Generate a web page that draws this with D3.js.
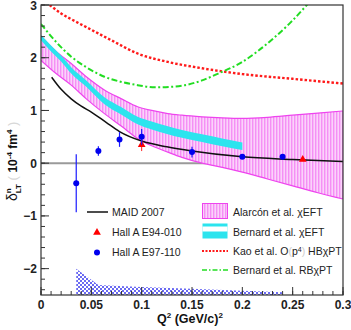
<!DOCTYPE html>
<html>
<head>
<meta charset="utf-8">
<script src="https://cdn.jsdelivr.net/npm/d3@7"></script>
<style>
  body { margin: 0; background: #fff; }
  svg { font-family: "Liberation Sans", Arial, sans-serif; }
</style>
</head>
<body>
<div id="chart"></div>
<script>
// chart data
var maidQ = [0.0106, 0.02, 0.03, 0.04, 0.05, 0.065, 0.078, 0.1, 0.125, 0.15, 0.2, 0.25, 0.3];
var maidV = [1.63, 1.4, 1.22, 1.08, 0.97, 0.77, 0.6, 0.42, 0.31, 0.23, 0.12, 0.07, 0.03];

var kaoQ = [0.0086, 0.02, 0.035, 0.05, 0.07, 0.096, 0.126, 0.16, 0.2, 0.25, 0.3];
var kaoV = [3.0, 2.84, 2.68, 2.53, 2.33, 2.08, 1.92, 1.80, 1.69, 1.60, 1.51];

var rbQ = [0, 0.015, 0.03, 0.045, 0.063, 0.08, 0.096, 0.113, 0.13, 0.143, 0.16, 0.176, 0.2, 0.215, 0.231, 0.248, 0.264, 0.275];
var rbV = [2.64, 2.3, 2.02, 1.82, 1.64, 1.54, 1.48, 1.44, 1.45, 1.48, 1.57, 1.70, 1.92, 2.12, 2.37, 2.67, 3.0, 3.25];

var bernQ = [0, 0.01, 0.02, 0.03, 0.045, 0.063, 0.08, 0.096, 0.11, 0.126, 0.14, 0.16, 0.18, 0.2];
var bernLo = [2.33, 2.12, 1.93, 1.70, 1.45, 1.12, 0.92, 0.74, 0.64, 0.55, 0.48, 0.40, 0.32, 0.25];
var bernHi = [2.43, 2.23, 2.04, 1.82, 1.57, 1.25, 1.06, 0.88, 0.79, 0.70, 0.63, 0.55, 0.47, 0.39];

var alaQ = [0, 0.015, 0.03, 0.045, 0.063, 0.08, 0.096, 0.11, 0.126, 0.14, 0.16, 0.18, 0.2, 0.225, 0.25, 0.275, 0.3];
var alaLo = [1.95, 1.70, 1.48, 1.22, 0.94, 0.70, 0.47, 0.33, 0.21, 0.11, 0.00, -0.08, -0.17, -0.30, -0.43, -0.56, -0.68];
var alaHi = [2.41, 2.12, 1.89, 1.64, 1.39, 1.22, 1.07, 1.00, 0.94, 0.91, 0.88, 0.86, 0.85, 0.87, 0.91, 0.95, 0.99];

var e97Q = [0.035, 0.057, 0.078, 0.1, 0.15, 0.2, 0.24];
var e97V = [-0.38, 0.23, 0.45, 0.50, 0.21, 0.12, 0.12];
var e97Err = [0.55, 0.09, 0.14, 0.15, 0.1, 0.03, 0.03];

var e94Q = [0.1, 0.26];
var e94V = [0.35, 0.07];
var e94Err = [0.12, 0.03];

var sysQ = [0.035, 0.057, 0.078, 0.1, 0.15, 0.2, 0.24];
var sysV = [-2.0, -2.31, -2.33, -2.35, -2.38, -2.42, -2.45];

var xTicks = [0, 0.05, 0.1, 0.15, 0.2, 0.25, 0.3];
var xTickLabels = ["0", "0.05", "0.1", "0.15", "0.2", "0.25", "0.3"];
var yTicks = [-2, -1, 0, 1, 2, 3];

var W = 351, H = 330;
var x = d3.scaleLinear().domain([0, 0.3]).range([41, 343]);
var y = d3.scaleLinear().domain([-2.5, 3]).range([295, 5]);

var svg = d3.select("#chart").append("svg")
	.attr("width", W)
	.attr("height", H);

var defs = svg.append("defs");

// plot clip
defs.append("clipPath").attr("id", "plotclip")
	.append("rect")
	.attr("x", x(0)).attr("y", y(3))
	.attr("width", x(0.3) - x(0)).attr("height", y(-2.5) - y(3));

// pink vertical hatch
var pink = defs.append("pattern").attr("id", "pinkhatch")
	.attr("patternUnits", "userSpaceOnUse")
	.attr("width", 3).attr("height", 3);
pink.append("rect").attr("width", 3).attr("height", 3).attr("fill", "#fbd2fb");
pink.append("rect").attr("width", 1.4).attr("height", 3).attr("fill", "#f58ff5");

// blue checker
var chk = defs.append("pattern").attr("id", "bluechk")
	.attr("patternUnits", "userSpaceOnUse")
	.attr("width", 4).attr("height", 4);
chk.append("rect").attr("width", 4).attr("height", 4).attr("fill", "#ffffff");
chk.append("rect").attr("width", 2).attr("height", 2).attr("fill", "#6a6af2");
chk.append("rect").attr("x", 2).attr("y", 2).attr("width", 2).attr("height", 2).attr("fill", "#6a6af2");

var plot = svg.append("g").attr("clip-path", "url(#plotclip)");

function zipQ(q, v) { return q.map(function(d, i) { return [d, v[i]]; }); }

var line = d3.line()
	.x(function(d) { return x(d[0]); })
	.y(function(d) { return y(d[1]); })
	.curve(d3.curveMonotoneX);

var band = d3.area()
	.x(function(d) { return x(d[0]); })
	.y0(function(d) { return y(d[1]); })
	.y1(function(d) { return y(d[2]); })
	.curve(d3.curveMonotoneX);

// zero line
plot.append("line")
	.attr("x1", x(0)).attr("x2", x(0.3))
	.attr("y1", y(0)).attr("y2", y(0))
	.style("stroke", "#9a9a9a")
	.style("stroke-width", 2);

// systematic band at the bottom
var sysData = sysQ.map(function(d, i) { return [d, -2.5, sysV[i]]; });
plot.append("path")
	.attr("d", d3.area()
		.x(function(d) { return x(d[0]); })
		.y0(function(d) { return y(d[1]); })
		.y1(function(d) { return y(d[2]); })
		.curve(d3.curveLinear)(sysData))
	.style("fill", "url(#bluechk)");

// Alarcon band
var alaData = alaQ.map(function(d, i) { return [d, alaLo[i], alaHi[i]]; });
plot.append("path")
	.attr("d", band(alaData))
	.style("fill", "url(#pinkhatch)");
plot.append("path")
	.attr("d", line(zipQ(alaQ, alaHi)))
	.style("fill", "none").style("stroke", "#ee44ee").style("stroke-width", 1.2);
plot.append("path")
	.attr("d", line(zipQ(alaQ, alaLo)))
	.style("fill", "none").style("stroke", "#ee44ee").style("stroke-width", 1.2);

// Bernard chiEFT band
var bernData = bernQ.map(function(d, i) { return [d, bernLo[i], bernHi[i]]; });
plot.append("path")
	.attr("d", band(bernData))
	.style("fill", "#2ce4ee");

// Kao HBchiPT
plot.append("path")
	.attr("d", line(zipQ(kaoQ, kaoV)))
	.style("fill", "none")
	.style("stroke", "#ff1a1a")
	.style("stroke-width", 2.4)
	.style("stroke-dasharray", "2.5,2");

// Bernard RBchiPT
plot.append("path")
	.attr("d", line(zipQ(rbQ, rbV)))
	.style("fill", "none")
	.style("stroke", "#22dd22")
	.style("stroke-width", 2)
	.style("stroke-dasharray", "6,2.5,2,2.5");

// MAID 2007
plot.append("path")
	.attr("d", line(zipQ(maidQ, maidV)))
	.style("fill", "none")
	.style("stroke", "#111")
	.style("stroke-width", 1.5);

// E94-010 triangles
var tri = d3.symbol().type(d3.symbolTriangle).size(26);
e94Q.forEach(function(q, i) {
	plot.append("line")
		.attr("x1", x(q)).attr("x2", x(q))
		.attr("y1", y(e94V[i] - e94Err[i])).attr("y2", y(e94V[i] + e94Err[i]))
		.style("stroke", "#ff2020").style("stroke-width", 1);
	plot.append("path")
		.attr("d", tri)
		.attr("transform", "translate(" + x(q) + "," + y(e94V[i]) + ")")
		.style("fill", "#ff0000");
});

// E97-110 circles
e97Q.forEach(function(q, i) {
	plot.append("line")
		.attr("x1", x(q)).attr("x2", x(q))
		.attr("y1", y(e97V[i] - e97Err[i])).attr("y2", y(e97V[i] + e97Err[i]))
		.style("stroke", "#1a1aff").style("stroke-width", 1.2);
	plot.append("circle")
		.attr("cx", x(q)).attr("cy", y(e97V[i]))
		.attr("r", 3)
		.style("fill", "#0000ee");
});

// frame
svg.append("rect")
	.attr("x", x(0)).attr("y", y(3))
	.attr("width", x(0.3) - x(0)).attr("height", y(-2.5) - y(3))
	.style("fill", "none").style("stroke", "#333").style("stroke-width", 1.2);

// x ticks (inside)
var xMinor = d3.range(0, 0.3001, 0.01);
svg.selectAll(".xminor").data(xMinor).enter().append("line")
	.attr("x1", function(d) { return x(d); }).attr("x2", function(d) { return x(d); })
	.attr("y1", y(-2.5)).attr("y2", y(-2.5) - 4)
	.style("stroke", "#333").style("stroke-width", 1);
svg.selectAll(".xmajor").data(xTicks).enter().append("line")
	.attr("x1", function(d) { return x(d); }).attr("x2", function(d) { return x(d); })
	.attr("y1", y(-2.5)).attr("y2", y(-2.5) - 8)
	.style("stroke", "#333").style("stroke-width", 1);
svg.selectAll(".xlab").data(xTicks).enter().append("text")
	.attr("x", function(d) { return x(d); })
	.attr("y", 309)
	.attr("text-anchor", "middle")
	.style("font-size", "12px").style("font-weight", "bold").style("fill", "#222")
	.text(function(d, i) { return xTickLabels[i]; });

// y ticks (inside)
var yMinor = d3.range(-2.4, 3.001, 0.2);
svg.selectAll(".yminor").data(yMinor).enter().append("line")
	.attr("x1", x(0)).attr("x2", x(0) + 4)
	.attr("y1", function(d) { return y(d); }).attr("y2", function(d) { return y(d); })
	.style("stroke", "#333").style("stroke-width", 1);
svg.selectAll(".ymajor").data(yTicks).enter().append("line")
	.attr("x1", x(0)).attr("x2", x(0) + 8)
	.attr("y1", function(d) { return y(d); }).attr("y2", function(d) { return y(d); })
	.style("stroke", "#333").style("stroke-width", 1);
svg.selectAll(".ylab").data(yTicks).enter().append("text")
	.attr("x", 37)
	.attr("y", function(d) { return y(d) + 4.5; })
	.attr("text-anchor", "end")
	.style("font-size", "12px").style("font-weight", "bold").style("fill", "#222")
	.text(function(d) { return d < 0 ? "\u2212" + Math.abs(d) : d; });

// x title
var xt = svg.append("text")
	.attr("x", 157).attr("y", 323)
	.attr("text-anchor", "start")
	.style("font-size", "12.5px").style("font-weight", "bold").style("fill", "#111");
xt.append("tspan").text("Q");
xt.append("tspan").attr("dy", -5).style("font-size", "8px").text("2");
xt.append("tspan").attr("dy", 5).text(" (GeV/c)");
xt.append("tspan").attr("dy", -5).style("font-size", "8px").text("2");

// y title
var yt = svg.append("text")
	.attr("transform", "translate(17,201) rotate(-90)")
	.style("font-size", "12px").style("font-weight", "bold").style("fill", "#111");
yt.append("tspan").style("font-size", "14px").style("font-weight", "normal").text("\u03b4");
yt.append("tspan").attr("dy", -6).style("font-size", "8px").text("n");
yt.append("tspan").attr("dx", -5).attr("dy", 10).style("font-size", "8px").text("LT");
yt.append("tspan").attr("dy", -4).style("fill", "#d8d8d8").style("font-weight", "normal").style("font-size", "13px").text(" ( ");
yt.append("tspan").text("10");
yt.append("tspan").attr("dy", -5).style("font-size", "8px").text("-4");
yt.append("tspan").attr("dy", 5).text(" fm");
yt.append("tspan").attr("dy", -5).style("font-size", "8px").text("4");
yt.append("tspan").attr("dy", 5).style("fill", "#d8d8d8").style("font-weight", "normal").style("font-size", "13px").text(" )");

// legends
var legFont = "10.5px";
var leg = svg.append("g");

// left legend
leg.append("line")
	.attr("x1", 87).attr("x2", 108).attr("y1", 212).attr("y2", 212)
	.style("stroke", "#111").style("stroke-width", 1.5);
leg.append("path")
	.attr("d", tri)
	.attr("transform", "translate(97,232.5)")
	.style("fill", "#ff0000");
leg.append("circle")
	.attr("cx", 97).attr("cy", 252.5).attr("r", 3)
	.style("fill", "#0000ee");

var leftLabels = ["MAID 2007", "Hall A E94-010", "Hall A E97-110"];
leg.selectAll(".ll").data(leftLabels).enter().append("text")
	.attr("x", 112)
	.attr("y", function(d, i) { return 216 + i * 20; })
	.style("font-size", legFont).style("fill", "#222")
	.text(function(d) { return d; });

// right legend
leg.append("rect")
	.attr("x", 202.5).attr("y", 203.5).attr("width", 25).attr("height", 15)
	.style("fill", "url(#pinkhatch)")
	.style("stroke", "#ee44ee").style("stroke-width", 1);
leg.append("rect")
	.attr("x", 202.5).attr("y", 223.5).attr("width", 25).attr("height", 15)
	.style("fill", "#2ce4ee");
leg.append("rect")
	.attr("x", 202.5).attr("y", 226.5).attr("width", 25).attr("height", 5)
	.style("fill", "#ffffff");
leg.append("line")
	.attr("x1", 202).attr("x2", 228).attr("y1", 251).attr("y2", 251)
	.style("stroke", "#ff1a1a").style("stroke-width", 2)
	.style("stroke-dasharray", "2,1.5");
leg.append("line")
	.attr("x1", 202).attr("x2", 228).attr("y1", 270).attr("y2", 270)
	.style("stroke", "#22dd22").style("stroke-width", 1.5)
	.style("stroke-dasharray", "5,2,1.5,2");

var rl1 = leg.append("text").attr("x", 233).attr("y", 216).style("font-size", legFont).style("fill", "#222");
rl1.text("Alarc\u00f3n et al. \u03c7EFT");
var rl2 = leg.append("text").attr("x", 233).attr("y", 235.5).style("font-size", legFont).style("fill", "#222");
rl2.text("Bernard et al. \u03c7EFT");
var rl3 = leg.append("text").attr("x", 233).attr("y", 255).style("font-size", legFont).style("fill", "#222");
rl3.append("tspan").text("Kao et al. O");
rl3.append("tspan").style("fill", "#cccccc").text("(");
rl3.append("tspan").text("p");
rl3.append("tspan").attr("dy", -3).style("font-size", "7px").text("4");
rl3.append("tspan").attr("dy", 3).style("fill", "#cccccc").text(")");
rl3.append("tspan").text(" HB\u03c7PT");
var rl4 = leg.append("text").attr("x", 233).attr("y", 274).style("font-size", legFont).style("fill", "#222");
rl4.text("Bernard et al. RB\u03c7PT");
</script>
</body>
</html>
